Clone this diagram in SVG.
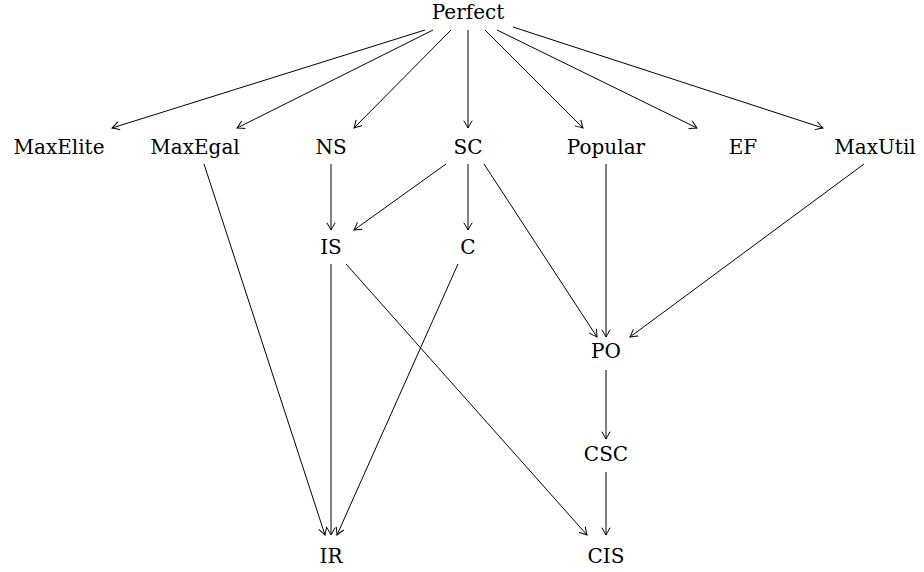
<svg xmlns="http://www.w3.org/2000/svg" width="924" height="572" viewBox="0 0 924 572">
<style>
text{font-size:20px;fill:#000;text-anchor:middle}
.e line{stroke:#000;stroke-width:1;fill:none;marker-end:url(#ar)}
</style>
<defs>
<marker id="ar" viewBox="-8 -5 10 10" refX="0" refY="0" markerWidth="10" markerHeight="10" markerUnits="userSpaceOnUse" orient="auto">
<path d="M-7,-4 Q-2,-1 0,0 Q-2,1 -7,4" fill="none" stroke="#000" stroke-width="1" stroke-linecap="round"/>
</marker>
</defs>
<rect width="924" height="572" fill="#fff"/>
<g class="e" id="edges">
<line x1="425" y1="30" x2="112" y2="128"/>
<line x1="433" y1="30" x2="237" y2="128"/>
<line x1="451" y1="30" x2="354" y2="128"/>
<line x1="468" y1="30" x2="468" y2="128"/>
<line x1="485" y1="30" x2="583" y2="128"/>
<line x1="497" y1="30" x2="697" y2="128"/>
<line x1="513" y1="27" x2="823" y2="128"/>
<line x1="331" y1="164" x2="331" y2="230"/>
<line x1="446" y1="164" x2="354" y2="230"/>
<line x1="468" y1="164" x2="468" y2="230"/>
<line x1="484" y1="164" x2="597" y2="337"/>
<line x1="606" y1="164" x2="606" y2="337"/>
<line x1="864" y1="164" x2="630" y2="337"/>
<line x1="204" y1="164" x2="325" y2="535"/>
<line x1="331" y1="264" x2="331" y2="535"/>
<line x1="458" y1="264" x2="337" y2="535"/>
<line x1="346" y1="264" x2="587" y2="535"/>
<line x1="606" y1="370" x2="606" y2="439"/>
<line x1="606" y1="472" x2="606" y2="535"/>
</g>
<g font-family="'DejaVu Serif', 'Liberation Serif', serif">
<g id="Perfect"><text x="468" y="19">Perfect</text></g>
<g id="MaxElite"><text x="59" y="154">MaxElite</text></g>
<g id="MaxEgal"><text x="195" y="154">MaxEgal</text></g>
<g id="NS"><text x="331" y="154">NS</text></g>
<g id="SC"><text x="468" y="154">SC</text></g>
<g id="Popular"><text x="606" y="154">Popular</text></g>
<g id="EF"><text x="743" y="154">EF</text></g>
<g id="MaxUtil"><text x="875" y="154">MaxUtil</text></g>
<g id="IS"><text x="331" y="254">IS</text></g>
<g id="C"><text x="468" y="254">C</text></g>
<g id="PO"><text x="606" y="358">PO</text></g>
<g id="CSC"><text x="606" y="461">CSC</text></g>
<g id="IR"><text x="331" y="563">IR</text></g>
<g id="CIS"><text x="606" y="563">CIS</text></g>
</g>
</svg>
